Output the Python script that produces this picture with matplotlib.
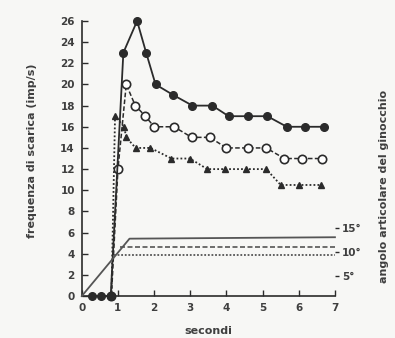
import matplotlib
matplotlib.use("Agg")
import matplotlib.pyplot as plt

# frequenza di scarica (imp/s) — three knee-angle conditions
t_filled = [0.27, 0.54, 0.80, 1.15, 1.53, 1.78, 2.04, 2.53, 3.06, 3.61, 4.06, 4.60, 5.13, 5.67, 6.18, 6.70]
f_filled = [0, 0, 0, 23, 26, 23, 20, 19, 18, 18, 17, 17, 17, 16, 16, 16]

t_open = [0.82, 1.00, 1.23, 1.48, 1.76, 2.00, 2.55, 3.04, 3.54, 4.00, 4.60, 5.10, 5.60, 6.10, 6.65]
f_open = [0, 12, 20, 18, 17, 16, 16, 15, 15, 14, 14, 14, 13, 13, 13]

t_tri = [0.82, 0.92, 1.17, 1.23, 1.49, 1.90, 2.48, 2.99, 3.47, 3.96, 4.55, 5.10, 5.50, 6.00, 6.62]
f_tri = [0, 17, 16, 15, 14, 14, 13, 13, 12, 12, 12, 12, 10.5, 10.5, 10.5]

# angolo articolare del ginocchio (degrees)
t_ang_solid = [0.0, 1.32, 7.0]
a_ang_solid = [0.8, 12.8, 13.1]
t_ang_dash = [1.05, 7.0]
a_ang_dash = [11.1, 11.1]
t_ang_dot = [0.88, 7.0]
a_ang_dot = [9.3, 9.3]

x_ticks = [0, 1, 2, 3, 4, 5, 6, 7]
y_ticks = [0, 2, 4, 6, 8, 10, 12, 14, 16, 18, 20, 22, 24, 26]
ang_ticks = [5, 10, 15]

ink = "#2b2b2b"
txt = "#3f3f3f"
bg = "#f7f7f5"

fig = plt.figure(figsize=(3.95, 3.38), dpi=100, facecolor=bg)
ax = fig.add_axes([0.207, 0.124, 0.641, 0.814])
ax.set_facecolor(bg)

ax.plot(t_filled, f_filled, color=ink, lw=1.3, marker="o", ms=5.5,
        mfc=ink, mec=ink, clip_on=False, zorder=4)
ax.plot(t_open, f_open, color=ink, lw=1.1, ls=(0, (3, 1.5)), marker="o", ms=6,
        mfc="white", mec=ink, mew=1.2, clip_on=False, zorder=3)
ax.plot(t_tri, f_tri, color=ink, lw=1.3, ls=(0, (1, 1.2)), marker="^", ms=5,
        mfc=ink, mec=ink, clip_on=False, zorder=3)

ax.set_xlim(0, 7)
ax.set_ylim(0, 26)
ax.set_xticks(x_ticks)
ax.set_yticks(y_ticks)
ax.tick_params(direction="in", length=4, width=1, colors=ink, labelcolor=txt,
               labelsize=7.5, pad=5)
for lab in ax.get_xticklabels() + ax.get_yticklabels():
    lab.set_fontweight("bold")
for s in ["top", "right"]:
    ax.spines[s].set_visible(False)
for s in ["left", "bottom"]:
    ax.spines[s].set_color(ink)
    ax.spines[s].set_linewidth(1.2)

ax.set_xlabel("secondi", fontsize=8, fontweight="bold", color=txt, labelpad=9)
ax.set_ylabel("frequenza di scarica (imp/s)", fontsize=8, fontweight="bold",
              color=txt)
ax.yaxis.set_label_coords(-0.175, 0.53)

ax2 = ax.twinx()
ax2.set_ylim(0.8, 58.3)
ax2.plot(t_ang_solid, a_ang_solid, color="#555555", lw=1.3, clip_on=False)
ax2.plot(t_ang_dash, a_ang_dash, color="#555555", lw=1.2, ls=(0, (3, 1.5)))
ax2.plot(t_ang_dot, a_ang_dot, color="#555555", lw=1.3, ls=(0, (1, 1)))
ax2.set_yticks(ang_ticks)
ax2.set_yticklabels([f"{v}°" for v in ang_ticks])
ax2.tick_params(direction="out", length=3, width=1, colors=ink, labelcolor=txt,
                labelsize=7.5, pad=2)
for lab in ax2.get_yticklabels():
    lab.set_fontweight("bold")
for s in ["top", "right", "left", "bottom"]:
    ax2.spines[s].set_visible(False)
ax2.set_ylabel("angolo articolare del ginocchio", fontsize=8, fontweight="bold",
               color=txt)
ax2.yaxis.set_label_coords(1.175, 0.40)

fig.savefig("out.png", dpi=100, facecolor=bg)
